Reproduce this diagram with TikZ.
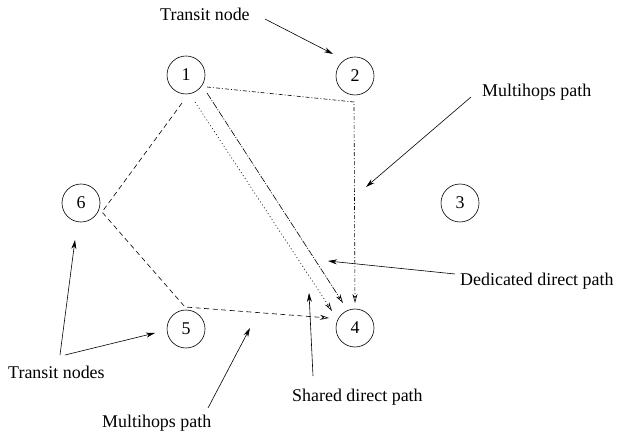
\documentclass[tikz,border=0pt]{standalone}
\usepackage{fontspec}
\setmainfont{Liberation Serif}
\usetikzlibrary{positioning, arrows.meta, calc}

\begin{document}
\begin{tikzpicture}[
			x=1bp, y=-1bp,
			% --- Styles ---
			site/.style={
				circle, draw, line width=0.6bp, minimum size=38bp, inner sep=0pt,
				font=\fontsize{18}{20}\selectfont
			},
			note/.style={
				font=\fontsize{18}{20}\selectfont, inner sep=0pt
			},
			pointer/.style={
				draw, -{Stealth[length=9bp, width=5bp]}, line width=0.6bp
			},
			hoptip/.style={
				-{Stealth[open, length=9bp, width=5bp]}, line width=0.6bp
			},
			multihop/.style={
				draw, hoptip, dash pattern=on 5bp off 3.5bp
			},
			transit/.style={
				draw, hoptip, dash pattern=on 4bp off 2bp on 1bp off 2bp
			},
			dedicated/.style={
				draw, hoptip, dash pattern=on 7bp off 1.5bp on 1bp off 1.5bp
			},
			shared/.style={
				draw, hoptip, dash pattern=on 1bp off 2.5bp
			}
			]
			\useasboundingbox (0,0) rectangle (622,439);
			
			% --- 1. Sites ---
			\node [site] (n1) at (186,75) {1};
			\node [site] (n2) at (355,76) {2};
			\node [site] (n3) at (460,203) {3};
			\node [site] (n4) at (355,328) {4};
			\node [site] (n5) at (186,329) {5};
			\node [site] (n6) at (81,203) {6};
			
			% --- 2. Path ends near the sites ---
			\coordinate (hop_a) at ($(n1)+(-4,28)$);
			\coordinate (hop_b) at ($(n6)+(21,9)$);
			\coordinate (hop_c) at ($(n5)+(-1,-22)$);
			\coordinate (hop_d) at ($(n4)+(-26,-10)$);
			
			\coordinate (via_a) at ($(n1)+(21,12)$);
			\coordinate (via_b) at ($(n2)+(-1,26)$);
			\coordinate (via_c) at ($(n4)+(0,-25)$);
			
			\coordinate (ded_a) at ($(n1)+(21,18)$);
			\coordinate (ded_b) at ($(n4)+(-12,-25)$);
			
			\coordinate (sh_a) at ($(n1)+(9,27)$);
			\coordinate (sh_b) at ($(n4)+(-23,-17)$);
			
			% --- 3. Paths ---
			% Multihops path through 6 and 5
			\draw [multihop] (hop_a) -- (hop_b) -- (hop_c) -- (hop_d);
			
			% Multihops path through 2
			\draw [transit] (via_a) -- (via_b) -- (via_c);
			
			% Direct paths
			\draw [dedicated] (ded_a) -- (ded_b);
			\draw [shared] (sh_a) -- (sh_b);
			
			% --- 4. Labels ---
			\node [note, anchor=west] (lab_transit) at (160,14) {Transit node};
			\node [note, anchor=west] (lab_hop_top) at (482,92) {Multihops path};
			\node [note, anchor=west] (lab_ded) at (460,281) {Dedicated direct path};
			\node [note, anchor=west] (lab_shared) at (292,397) {Shared direct path};
			\node [note, anchor=west] (lab_hop_bot) at (102,423) {Multihops path};
			\node [note, anchor=west] (lab_transits) at (8,372) {Transit nodes};
			
			% --- 5. Pointers ---
			\coordinate (p_transit) at (333,54);
			\coordinate (p_hop_top) at (366,187);
			\coordinate (p_ded) at (328,261);
			\coordinate (p_shared) at (309,293);
			\coordinate (p_hop_bot) at (250,328);
			\coordinate (p_six) at (75,240);
			\coordinate (p_five) at (155,333);
			
			\draw [pointer] (265,19) -- (p_transit);
			\draw [pointer] (471,97) -- (p_hop_top);
			\draw [pointer] (455,274) -- (p_ded);
			\draw [pointer] (313,376) -- (p_shared);
			\draw [pointer] (208,408) -- (p_hop_bot);
			\draw [pointer] (60,355) -- (p_six);
			\draw [pointer] (65,355) -- (p_five);
			
		\end{tikzpicture}
\end{document}
